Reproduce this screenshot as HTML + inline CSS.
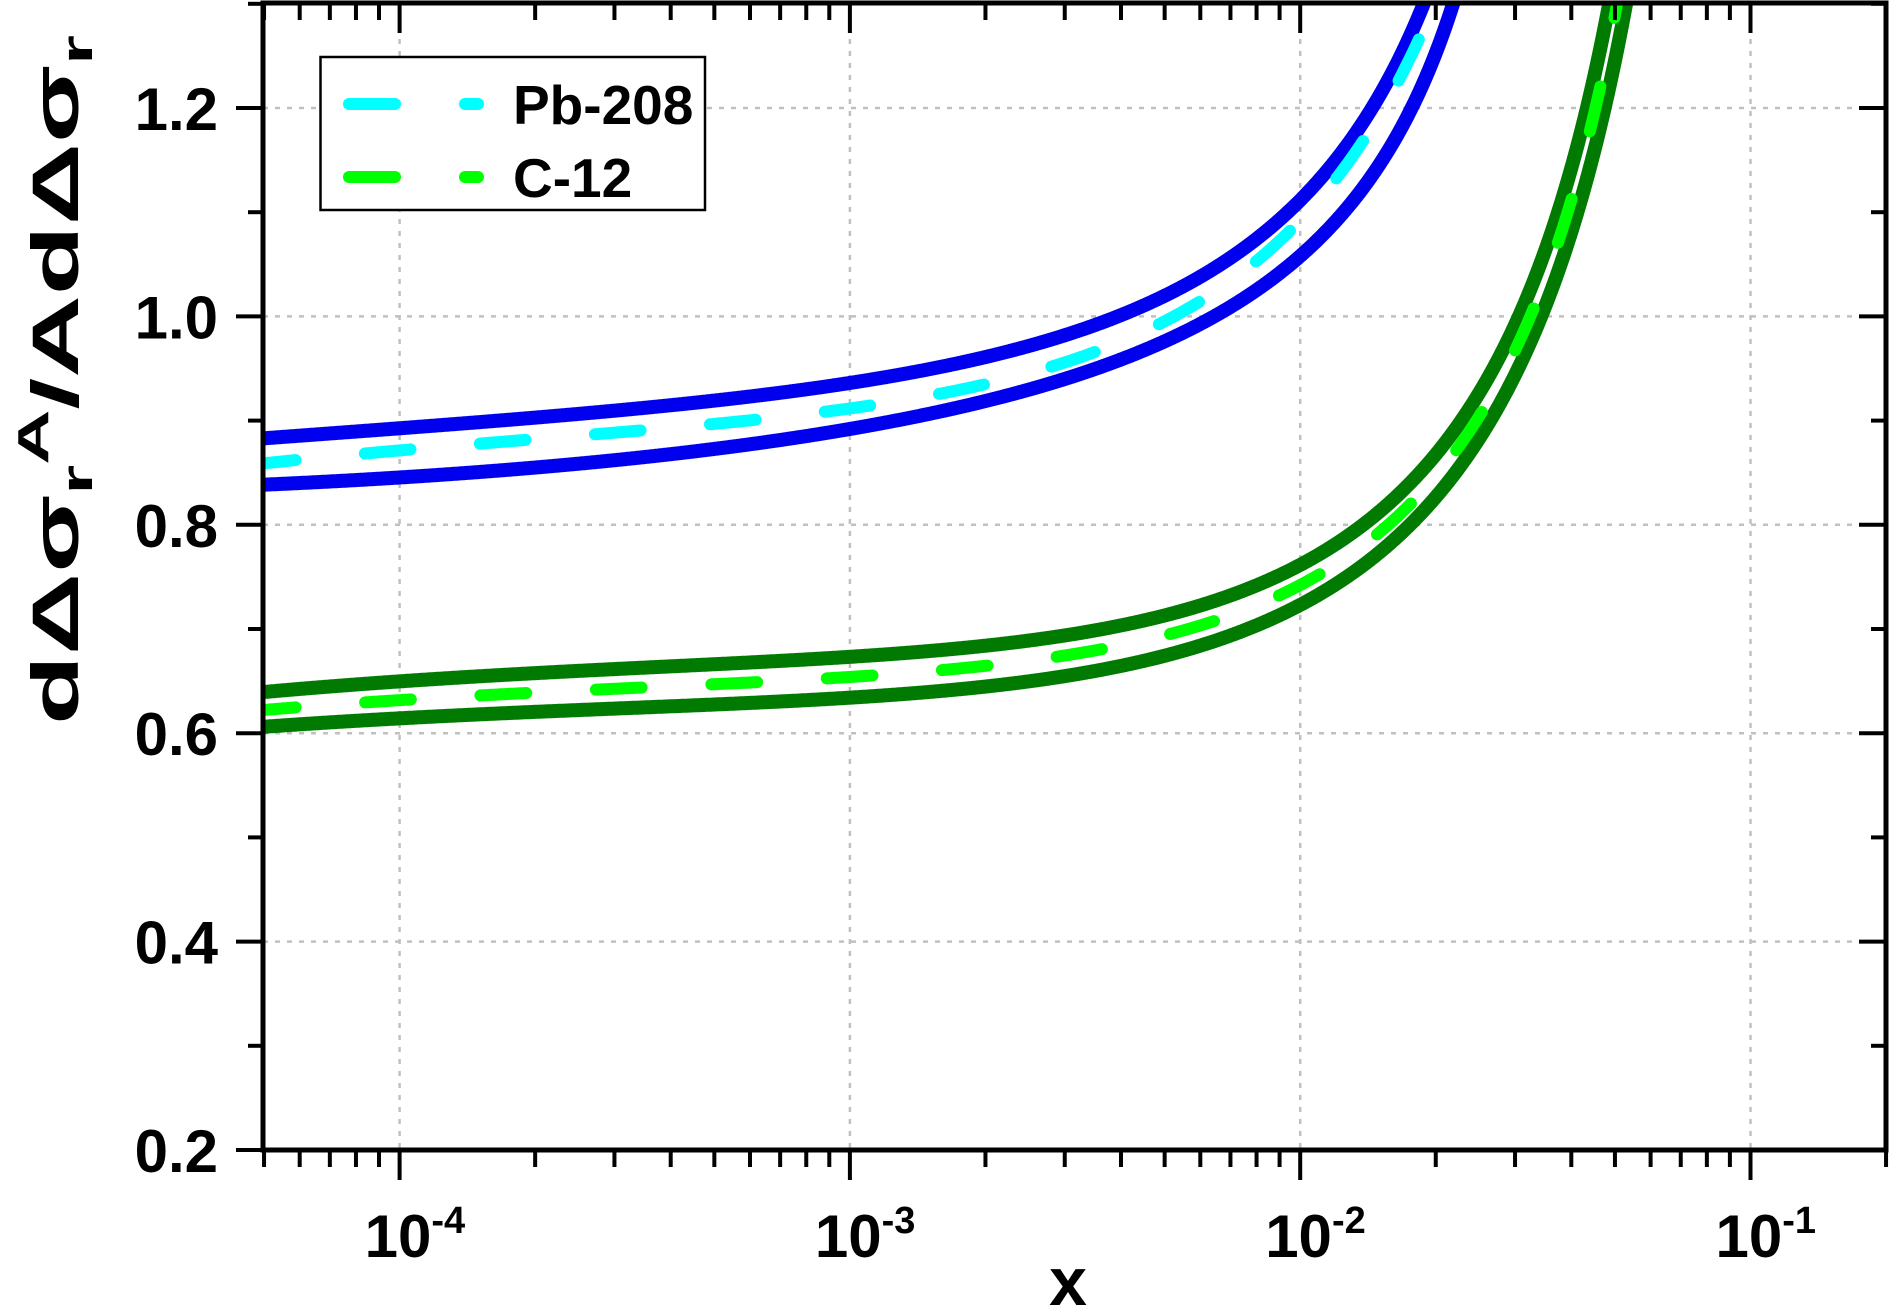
<!DOCTYPE html>
<html><head><meta charset="utf-8"><style>
html,body{margin:0;padding:0;background:#fff;}
svg{display:block;}
text{font-family:"Liberation Sans",Arial,sans-serif;font-weight:bold;fill:#000;}
</style></head><body>
<svg id="s" width="1892" height="1310" viewBox="0 0 1892 1310" xmlns="http://www.w3.org/2000/svg">
<defs><clipPath id="c"><rect x="263" y="3" width="1623" height="1147"/></clipPath></defs>
<g id="grid" stroke="#c0c0c0" stroke-width="2.5" stroke-dasharray="5 7"></g>
<g clip-path="url(#c)" fill="none" stroke-linejoin="round">
<path id="bu" stroke="#0000ee" stroke-width="14"/>
<path id="bl" stroke="#0000ee" stroke-width="14"/>
<path id="bm" stroke="#00ffff" stroke-width="12" stroke-linecap="round" stroke-dasharray="46 70"/>
<path id="gu" stroke="#007a00" stroke-width="14"/>
<path id="gl" stroke="#007a00" stroke-width="14"/>
<path id="gm" stroke="#00ff00" stroke-width="12" stroke-linecap="round" stroke-dasharray="46 70"/>
</g>
<g id="ticks" stroke="#000" stroke-width="4"></g>
<rect x="263" y="3" width="1623" height="1147" fill="none" stroke="#000" stroke-width="5"/>
<g id="labels" font-size="60"></g>
<text x="1068" y="1305" font-size="68" text-anchor="middle">x</text>
<text transform="translate(78,380) rotate(-90)" font-size="66" text-anchor="middle" textLength="690" lengthAdjust="spacingAndGlyphs">dΔσ<tspan font-size="44" dy="14">r</tspan><tspan font-size="44" dy="-44">A</tspan><tspan dy="30">/AdΔσ</tspan><tspan font-size="44" dy="14">r</tspan></text>
<rect x="320.5" y="57" width="384.5" height="153" fill="#fff" stroke="#000" stroke-width="2.5"/>
<g stroke-width="12" stroke-linecap="round">
<line x1="349" y1="104" x2="395" y2="104" stroke="#00ffff"/>
<line x1="465" y1="104" x2="478" y2="104" stroke="#00ffff"/>
<line x1="349" y1="177" x2="395" y2="177" stroke="#00ff00"/>
<line x1="465" y1="177" x2="478" y2="177" stroke="#00ff00"/>
</g>
<text x="513" y="124" font-size="55">Pb-208</text>
<text x="513" y="197" font-size="55">C-12</text>
</svg>
<script>
function solve(M,b){const n=b.length;M=M.map((r,i)=>[...r,b[i]]);
 for(let i=0;i<n;i++){let p=i;for(let k=i+1;k<n;k++)if(Math.abs(M[k][i])>Math.abs(M[p][i]))p=k;[M[i],M[p]]=[M[p],M[i]];
  for(let k=0;k<n;k++)if(k!=i){const f=M[k][i]/M[i][i];for(let j=i;j<=n;j++)M[k][j]-=f*M[i][j];}}
 return M.map((r,i)=>r[n]/r[i]);}
function fit(pts){let best=null;
 for(let X0=Math.max(...pts.map(p=>p[0]))+5;X0<2600;X0+=2){
  const f=x=>{const u=(x-800)/600;return [1,u,u*u,100/(X0-x)];};
  const A=[[0,0,0,0],[0,0,0,0],[0,0,0,0],[0,0,0,0]],b=[0,0,0,0];
  for(const [x,y] of pts){const v=f(x);for(let i=0;i<4;i++){b[i]+=v[i]*y;for(let j=0;j<4;j++)A[i][j]+=v[i]*v[j];}}
  const c=solve(A,b);let e=0;for(const [x,y] of pts){const v=f(x);const r=v.reduce((s,q,i)=>s+q*c[i],0)-y;e+=r*r;}
  if(!best||e<best.e)best={e,c,f,X0};}
 return best;}
function draw(pts){const m=fit(pts);const out=[];
 for(let x=250;x<m.X0;x+=0.5){const v=m.f(x);const y=v.reduce((s,q,i)=>s+q*m.c[i],0);out.push([x,y]);if(y<-15)break;}
 return "M"+out.map(a=>a[0].toFixed(1)+","+a[1].toFixed(1)).join(" L");}
const P={
bu:[[260,439],[399,428],[592,412],[850,383],[1006,354],[1155,299],[1255,239],[1338,158],[1388,81],[1425,0]],
bl:[[260,486],[399,476],[592,461.6],[850,430.5],[1006,397],[1172,335],[1300.6,258],[1379,163],[1429,72],[1454,0]],
bm:[[260,462],[399,452],[592,437],[850,406.6],[1006,376],[1172,317],[1300,232],[1360,140],[1404,62],[1438,0]],
gu:[[260,692],[850,660],[1089,626.6],[1300.6,564],[1421,478],[1517,316],[1587,108],[1610,0]],
gl:[[260,727],[850,698],[1089,672],[1300.6,603],[1421,516.6],[1504,392],[1543,316],[1604,108],[1627,0]],
gm:[[260,710],[850,679],[1089,649],[1300.6,583],[1421,497],[1530,316],[1595,108],[1618,0]]};
for(const k in P)document.getElementById(k).setAttribute("d",draw(P[k]));
const NS="http://www.w3.org/2000/svg";
function el(g,t,a,txt){const e=document.createElementNS(NS,t);for(const k in a)e.setAttribute(k,a[k]);if(txt)e.innerHTML=txt;document.getElementById(g).appendChild(e);}
const X=l=>399.6+(l+4)*450.3, Y=v=>1150-(v-0.2)*1042;
for(let d=-4;d<=-1;d++){el("grid","line",{x1:X(d),x2:X(d),y1:3,y2:1150});}
for(let v=0.4;v<1.25;v+=0.2){el("grid","line",{x1:263,x2:1886,y1:Y(v),y2:Y(v)});}
for(let d=-5;d<=-1;d++)for(let m=1;m<=9;m++){const x=X(d+Math.log10(m));if(x<262||x>1888)continue;const L=m==1?30:17;
el("ticks","line",{x1:x,x2:x,y1:1150,y2:1150+L});el("ticks","line",{x1:x,x2:x,y1:3,y2:3+L});}
for(let i=2;i<=13;i++){const v=i/10,y=Y(v),L=i%2==0?27:15;el("ticks","line",{x1:263-L,x2:263,y1:y,y2:y});el("ticks","line",{x1:1886-L,x2:1886,y1:y,y2:y});}
for(let i=1;i<=6;i++){const v=0.2*i;el("labels","text",{x:218,y:Y(v)+22,"text-anchor":"end"},v.toFixed(1));}
for(let d=-4;d<=-1;d++){el("labels","text",{x:X(d)-35,y:1257},"10<tspan font-size='38' dy='-24'>"+d+"</tspan>");}
</script>
</body></html>
